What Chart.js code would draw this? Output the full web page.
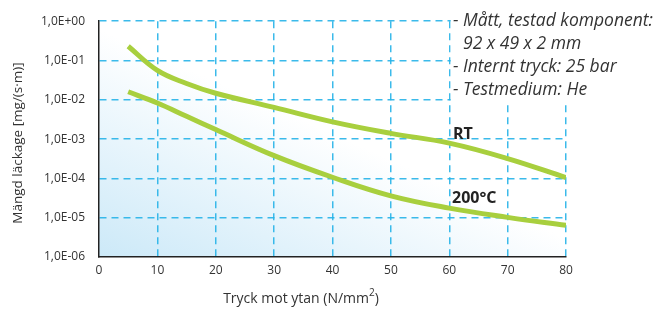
<!DOCTYPE html>
<html>
<head>
<meta charset="utf-8">
<script src="https://cdn.jsdelivr.net/npm/chart.js@4/dist/chart.umd.min.js"></script>
<style>
html,body{margin:0;padding:0;background:#fff;}
#wrap{width:664px;height:310px;position:relative;}
</style>
</head>
<body>
<div id="wrap"><canvas id="c" width="664" height="310"></canvas></div>
<script>
// ---- data ----
const pressure = [5, 10, 15, 20, 30, 40, 50, 60, 70, 80];
const leakRT   = [0.23, 0.056, 0.026, 0.0147, 0.0064, 0.00275, 0.0014, 0.00079, 0.00032, 0.000105];
const leak200  = [0.016, 0.0083, 0.0038, 0.00175, 0.00038, 0.000107, 0.000036, 0.0000175, 0.0000102, 0.0000064];
const xTicks = [0, 10, 20, 30, 40, 50, 60, 70, 80];
const yTickValues = [1e-6, 1e-5, 1e-4, 1e-3, 1e-2, 1e-1, 1];
const yTickLabels = ['1,0E-06', '1,0E-05', '1,0E-04', '1,0E-03', '1,0E-02', '1,0E-01', '1,0E+00'];
const seriesLabels = ['RT', '200°C'];
const noteLines = ['- Mått, testad komponent:', '92 x 49 x 2 mm', '- Internt tryck: 25 bar', '- Testmedium: He'];
const xTitle = 'Tryck mot ytan (N/mm';
const xTitleSup = '2';
const xTitleEnd = ')';
const yTitle = 'Mängd läckage [mg/(s·m)]';

const GREEN = '#a8cf3e';
const GRID = 'rgba(38,178,232,0.9)';
const AXIS = '#222';
const TXT = '#333';
const FONT = '"Open Sans", "DejaVu Sans", sans-serif';

const bgPlugin = {
  id: 'bg',
  beforeDraw(chart) {
    const {ctx, chartArea: a} = chart;
    ctx.save();
    const g = ctx.createLinearGradient(a.left, a.bottom, a.left + 85, a.bottom - 190);
    g.addColorStop(0, 'rgba(204,233,248,1)');
    g.addColorStop(0.55, 'rgba(232,245,252,1)');
    g.addColorStop(1, 'rgba(255,255,255,1)');
    ctx.fillStyle = g;
    ctx.fillRect(a.left, a.top, a.right - a.left, a.bottom - a.top);
    ctx.restore();
  },
  beforeDatasetsDraw(chart) {
    const {ctx, scales: {x, y}} = chart;
    const x0 = x.getPixelForValue(60) + 1.5;
    const y1 = y.getPixelForValue(1e-2) + 3;
    ctx.save();
    ctx.fillStyle = '#fff';
    ctx.fillRect(x0, 0, chart.width - x0, y1);
    ctx.restore();
  }
};

const textPlugin = {
  id: 'texts',
  afterDraw(chart) {
    const {ctx} = chart;
    ctx.save();
    ctx.fillStyle = TXT;
    // notes
    ctx.font = 'italic 17.5px ' + FONT;
    ctx.textBaseline = 'middle';
    ctx.textAlign = 'left';
    const nx = 453;
    const indent = ctx.measureText('- ').width;
    ctx.fillText(noteLines[0], nx, 21);
    ctx.fillText(noteLines[1], nx + indent, 44);
    ctx.fillText(noteLines[2], nx, 67);
    ctx.fillText(noteLines[3], nx, 90);
    // series labels
    ctx.fillStyle = '#222';
    ctx.font = 'bold 16px ' + FONT;
    ctx.fillText(seriesLabels[0], 453, 134);
    ctx.fillText(seriesLabels[1], 452, 198);
    // axis titles
    ctx.fillStyle = TXT;
    ctx.font = '14px ' + FONT;
    const w1 = ctx.measureText(xTitle).width;
    ctx.font = '10px ' + FONT;
    const w2 = ctx.measureText(xTitleSup).width;
    ctx.font = '14px ' + FONT;
    const w3 = ctx.measureText(xTitleEnd).width;
    const total = w1 + w2 + w3;
    let sx = 301 - total / 2;
    ctx.fillText(xTitle, sx, 299);
    ctx.font = '10px ' + FONT;
    ctx.fillText(xTitleSup, sx + w1, 293);
    ctx.font = '14px ' + FONT;
    ctx.fillText(xTitleEnd, sx + w1 + w2, 299);
    ctx.font = '13.5px ' + FONT;
    ctx.textAlign = 'center';
    ctx.translate(18, 143);
    ctx.rotate(-Math.PI / 2);
    ctx.fillText(yTitle, 0, 0);
    ctx.restore();
  }
};

new Chart(document.getElementById('c'), {
  type: 'line',
  data: {
    datasets: [
      { label: seriesLabels[0], data: pressure.map((p, i) => ({x: p, y: leakRT[i]})),
        borderColor: GREEN, borderWidth: 5, pointRadius: 0, tension: 0.4, fill: false, borderCapStyle: 'butt' },
      { label: seriesLabels[1], data: pressure.map((p, i) => ({x: p, y: leak200[i]})),
        borderColor: GREEN, borderWidth: 5, pointRadius: 0, tension: 0.4, fill: false, borderCapStyle: 'butt' }
    ]
  },
  options: {
    responsive: false,
    animation: false,
    layout: { padding: { top: 19, right: 98, left: 0, bottom: 0 } },
    plugins: { legend: { display: false }, tooltip: { enabled: false } },
    scales: {
      x: {
        type: 'linear', min: 0, max: 80,
        afterBuildTicks(s) { s.ticks = xTicks.map(v => ({value: v})); },
        afterFit(s) { s.height = 53; },
        ticks: { color: TXT, font: { family: FONT, size: 12 }, padding: 6, maxRotation: 0 },
        grid: { drawTicks: false, lineWidth: 1.5,
          color: ctx => (ctx.tick && ctx.tick.value === 0) ? 'rgba(0,0,0,0)' : GRID },
        border: { display: true, color: AXIS, width: 1.5, dash: [7, 5] }
      },
      y: {
        type: 'logarithmic', min: 1e-6, max: 1,
        afterBuildTicks(s) { s.ticks = yTickValues.map(v => ({value: v})); },
        afterFit(s) { s.width = 99; },
        ticks: { color: TXT, font: { family: FONT, size: 12 }, padding: 14,
          callback: (v) => { const i = yTickValues.findIndex(t => Math.abs(Math.log10(t) - Math.log10(v)) < 1e-6); return i >= 0 ? yTickLabels[i] : ''; } },
        grid: { drawTicks: false, lineWidth: 1.5,
          color: ctx => (ctx.tick && ctx.tick.value <= 1.0001e-6) ? 'rgba(0,0,0,0)' : GRID },
        border: { display: true, color: AXIS, width: 1.5, dash: [7, 5] }
      }
    }
  },
  plugins: [bgPlugin, textPlugin]
});
</script>
</body>
</html>
